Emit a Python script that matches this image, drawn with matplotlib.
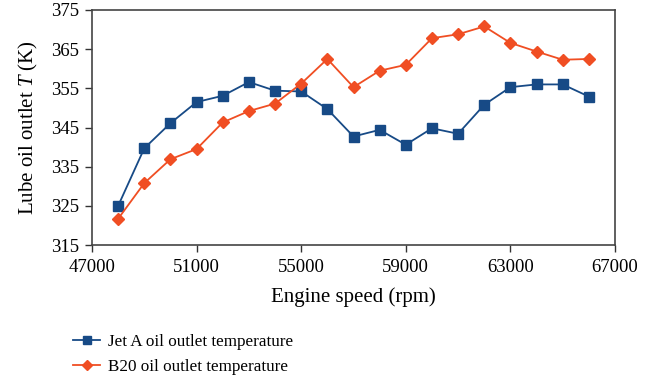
import matplotlib
matplotlib.use("Agg")
import matplotlib.pyplot as plt

speed = [48000, 49000, 50000, 51000, 52000, 53000, 54000, 55000, 56000, 57000,
         58000, 59000, 60000, 61000, 62000, 63000, 64000, 65000, 66000]
jet_a = [325.0, 339.7, 346.1, 351.5, 353.1, 356.6, 354.4, 354.2, 349.7, 342.7,
         344.4, 340.6, 344.8, 343.4, 350.8, 355.3, 356.0, 356.0, 352.9]
b20 = [321.7, 330.8, 336.9, 339.5, 346.3, 349.2, 351.1, 356.2, 362.5, 355.3,
       359.5, 361.0, 367.8, 368.8, 370.8, 366.6, 364.4, 362.3, 362.5]
xticks = [47000, 51000, 55000, 59000, 63000, 67000]
yticks = [315, 325, 335, 345, 355, 365, 375]

plt.rcParams['font.family'] = ['Liberation Serif', 'DejaVu Serif']
plt.rcParams['mathtext.fontset'] = 'custom'
plt.rcParams['mathtext.it'] = 'Liberation Serif:italic'
plt.rcParams['mathtext.rm'] = 'Liberation Serif'

fig = plt.figure(figsize=(6.63, 3.83), dpi=100)
ax = fig.add_axes([92/663, 1 - 245/383, (615-92)/663, (245-10)/383])

ax.plot(speed, jet_a, color='#174a86', marker='s', markersize=7.5, linewidth=1.3,
        label='Jet A oil outlet temperature')
ax.plot(speed, b20, color='#f04e23', marker='D', markersize=6, linewidth=1.3,
        label='B20 oil outlet temperature')

ax.set_xlim(47000, 67000)
ax.set_ylim(315, 375)
ax.set_xticks(xticks)
ax.set_yticks(yticks)
ax.tick_params(direction='out', length=5, width=1, labelsize=13.5, color='#333333')
ax.tick_params(axis='x', pad=5)
ax.tick_params(axis='y', pad=4)
for s in ax.spines.values():
    s.set_color('#444444')
    s.set_linewidth(1.2)

ax.set_xlabel('Engine speed (rpm)', fontsize=15, labelpad=8)
ax.set_ylabel('Lube oil outlet $T$ (K)', fontsize=15, labelpad=8)

fig.legend(loc='upper left', bbox_to_anchor=(66/663, 1 - 327/383), frameon=False,
           fontsize=12.3, handlelength=1.6, handletextpad=0.45,
           labelspacing=0.55, borderaxespad=0, markerscale=0.8)

fig.savefig('out.png', dpi=100)
